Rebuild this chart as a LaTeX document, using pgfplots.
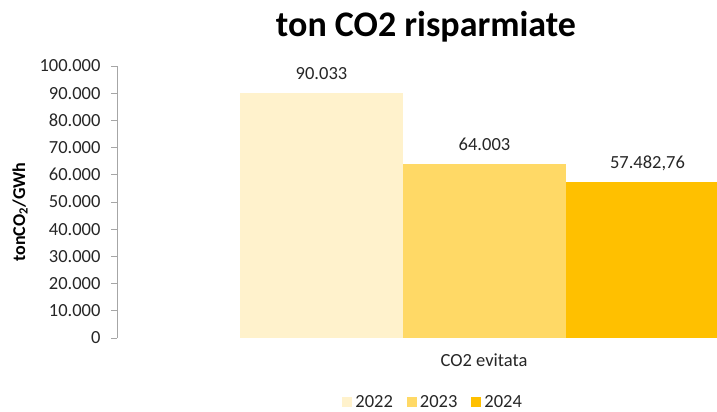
\documentclass[border=0pt]{standalone}
\usepackage{fontspec}
\setmainfont{Carlito}
\usepackage{pgfplots}
\pgfplotsset{compat=1.18}
\definecolor{c22}{HTML}{FFF2CC}
\definecolor{c23}{HTML}{FFD966}
\definecolor{c24}{HTML}{FFC000}
\definecolor{axgray}{HTML}{A6A6A6}
\definecolor{txt}{HTML}{262626}
\begin{document}
\begin{tikzpicture}[x=1pt,y=1pt]
\useasboundingbox (0,0) rectangle (717,412);
\begin{axis}[
  at={(117pt,74pt)}, anchor=south west,
  scale only axis, width=600pt, height=272pt,
  xmin=117, xmax=717, ymin=0, ymax=100000,
  axis x line=none, axis y line*=left,
  y axis line style={draw=axgray, line width=0.8pt, -},
  ytick={0,10000,...,100000},
  scaled y ticks=false,
  yticklabel style={/pgf/number format/.cd, 1000 sep={.}, fixed, assume math mode=true, /tikz/.cd, xshift=-7pt},
  tick align=outside, major tick length=6pt,
  ytick style={draw=axgray, line width=0.8pt},
  ticklabel style={font=\fontsize{18.5}{20}\selectfont, text=txt},
  ybar, bar width=163,
  nodes near coords, point meta=explicit symbolic,
  nodes near coords style={font=\fontsize{18.5}{20}\selectfont, text=txt, anchor=base, yshift=13.5pt, inner sep=0pt},
  legend columns=3,
  legend image code/.code={\fill[#1] (0pt,-5pt) rectangle (10pt,5pt);},
  legend style={draw=none, fill=none, at={(0.527,-0.235)}, anchor=center,
    font=\fontsize{18.5}{20}\selectfont, text=txt,
    nodes={inner xsep=2pt},
    /tikz/every even column/.append style={column sep=12pt},
    /tikz/every odd column/.append style={column sep=1pt}},
]
\addplot[fill=c22, draw=none, bar shift=0pt] coordinates {(321.5,90033) [90.033]};
\addplot[fill=c23, draw=none, bar shift=0pt] coordinates {(484.5,64003) [64.003]};
\addplot[fill=c24, draw=none, bar shift=0pt] coordinates {(647.5,57482.76) [57.482,76]};
\legend{2022,2023,2024}
\end{axis}
\node[font=\fontsize{36}{40}\selectfont\bfseries, text=black] at (426,385) {ton CO2 risparmiate};
\node[font=\fontsize{18}{20}\selectfont\bfseries, text=black, rotate=90] at (20,200) {tonCO\textsubscript{2}/GWh};
\node[font=\fontsize{18.5}{20}\selectfont, text=txt] at (484,52) {CO2 evitata};
\end{tikzpicture}
\end{document}
